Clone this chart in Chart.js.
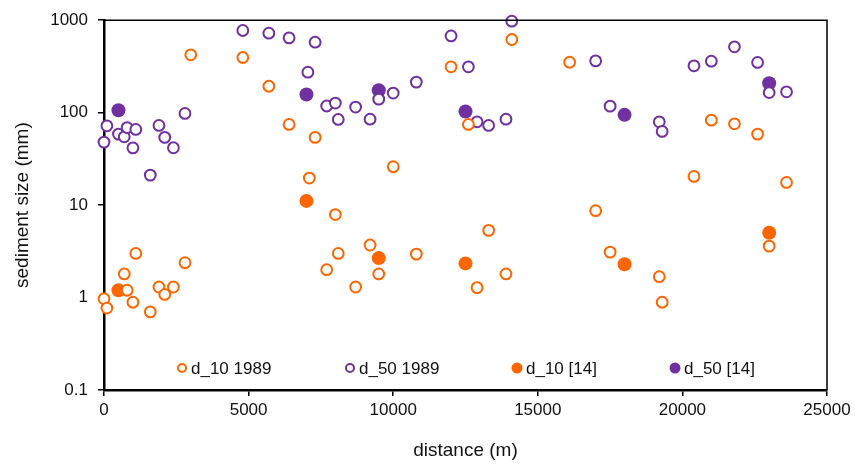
<!DOCTYPE html>
<html>
<head>
<meta charset="utf-8">
<script src="https://cdn.jsdelivr.net/npm/chart.js@4.4.0/dist/chart.umd.min.js"></script>
<style>
  html, body { margin: 0; padding: 0; background: #ffffff; }
  #wrap { width: 855px; height: 469px; position: relative; }
</style>
</head>
<body>
<div id="wrap"><canvas id="c" width="855" height="469"></canvas></div>
<script>
// ---- data ----
const d10_1989_x = [0,100,700,800,1000,1100,1600,1900,2100,2400,2800,3000,4800,5700,6400,7100,7300,7700,8000,8100,8700,9200,9500,10000,10800,12000,12600,12900,13300,13900,14100,16100,17000,17500,19200,19300,20400,21000,21800,22600,23000,23600];
const d10_1989_y = [0.97,0.77,1.8,1.2,0.89,3.0,0.70,1.3,1.08,1.3,2.38,422,395,193,74.5,19.6,54,2.0,7.9,3.0,1.3,3.7,1.8,26,2.95,313,74.5,1.28,5.33,1.8,618,351,8.7,3.1,1.68,0.89,20.4,83,75.7,58.6,3.6,17.6];

const d50_1989_x = [0,100,500,700,800,1000,1100,1600,1900,2100,2400,2800,4800,5700,6400,7050,7300,7700,8000,8100,8700,9200,9500,10000,10800,12000,12600,12900,13300,13900,14100,17000,17500,19200,19300,20400,21000,21800,22600,23000,23600];
const d50_1989_y = [48,72,58.6,54.8,69,41.6,65.8,21.1,72.7,54,41.7,98,774,723,644,274,578,118,127,84.4,115,85,140,163,214,676,313,79.6,72.7,85,975,363,117.6,79.6,62.6,321,360,515,349,165,168];

const d10_14_x = [500,7000,9500,12500,18000,23000];
const d10_14_y = [1.2,11.1,2.67,2.34,2.29,5.02];

const d50_14_x = [500,7000,9500,12500,18000,23000];
const d50_14_y = [106,157,175,103,94.7,208];

const seriesLabels = ['d_10 1989','d_50 1989','d_10 [14]','d_50 [14]'];
const yTickValues = [0.1,1,10,100,1000];
const xMin = 0, xMax = 25000, xStep = 5000;

// ---- styling ----
const ORANGE = '#FF6600';
const PURPLE = '#7030A0';
const FONT = "'Liberation Sans', Arial, sans-serif";

function pts(xs, ys) { return xs.map((x, i) => ({ x: x, y: ys[i] })); }

const datasets = [
  { label: seriesLabels[0], data: pts(d10_1989_x, d10_1989_y), backgroundColor: '#ffffff', borderColor: ORANGE, borderWidth: 2, pointRadius: 5.4, filled: false, color: ORANGE },
  { label: seriesLabels[1], data: pts(d50_1989_x, d50_1989_y), backgroundColor: '#ffffff', borderColor: PURPLE, borderWidth: 2, pointRadius: 5.4, filled: false, color: PURPLE },
  { label: seriesLabels[2], data: pts(d10_14_x, d10_14_y), backgroundColor: ORANGE, borderColor: ORANGE, borderWidth: 0, pointRadius: 7, filled: true, color: ORANGE },
  { label: seriesLabels[3], data: pts(d50_14_x, d50_14_y), backgroundColor: PURPLE, borderColor: PURPLE, borderWidth: 0, pointRadius: 7, filled: true, color: PURPLE }
].map(d => Object.assign(d, { pointHoverRadius: d.pointRadius, clip: false, showLine: false }));

// frame (top/right) + in-plot legend
const framePlugin = {
  id: 'frameLegend',
  afterDatasetsDraw(chart) {
    const ctx = chart.ctx, a = chart.chartArea;
    ctx.save();
    ctx.strokeStyle = '#000';
    ctx.lineWidth = 1.5;
    ctx.beginPath();
    ctx.moveTo(a.left, a.top);
    ctx.lineTo(a.right, a.top);
    ctx.lineTo(a.right, a.bottom);
    ctx.stroke();

    // legend inside plot area
    const legendX = [182, 350, 517, 675];
    const legendY = 368;
    ctx.font = '17px ' + FONT;
    ctx.textBaseline = 'middle';
    ctx.textAlign = 'left';
    chart.data.datasets.forEach((ds, i) => {
      const cx = legendX[i];
      ctx.beginPath();
      if (ds.filled) {
        ctx.arc(cx, legendY, 5.5, 0, Math.PI * 2);
        ctx.fillStyle = ds.color;
        ctx.fill();
      } else {
        ctx.arc(cx, legendY, 4, 0, Math.PI * 2);
        ctx.fillStyle = '#fff';
        ctx.fill();
        ctx.lineWidth = 2;
        ctx.strokeStyle = ds.color;
        ctx.stroke();
      }
      ctx.fillStyle = '#111';
      ctx.fillText(ds.label, cx + 9, legendY + 1);
    });
    ctx.restore();
  }
};

new Chart(document.getElementById('c'), {
  type: 'scatter',
  data: { datasets: datasets },
  options: {
    responsive: false,
    animation: false,
    devicePixelRatio: 1,
    layout: { padding: { left: 0, right: 28, top: 20, bottom: 0 } },
    plugins: { legend: { display: false }, tooltip: { enabled: false } },
    scales: {
      x: {
        type: 'linear',
        min: xMin, max: xMax,
        ticks: { stepSize: xStep, color: '#111', font: { family: FONT, size: 17 }, padding: 4, maxRotation: 0, callback: v => String(v) },
        grid: { display: true, drawOnChartArea: false, drawTicks: true, tickLength: 6, color: '#000', lineWidth: 1.5 },
        border: { display: true, color: '#000', width: 2.5 },
        title: { display: true, text: 'distance (m)', color: '#111', font: { family: FONT, size: 19 }, padding: { top: 0, bottom: 7 } },
        afterFit(scale) { scale.height = 79; }
      },
      y: {
        type: 'logarithmic',
        min: yTickValues[0], max: yTickValues[yTickValues.length - 1],
        afterBuildTicks(scale) { scale.ticks = yTickValues.map(v => ({ value: v, major: true })); },
        ticks: { color: '#111', font: { family: FONT, size: 17 }, padding: 10, callback: v => String(v) },
        grid: { display: true, drawOnChartArea: false, drawTicks: true, tickLength: 6, color: '#000', lineWidth: 1.5 },
        border: { display: true, color: '#000', width: 2.5 },
        title: { display: true, text: 'sediment size (mm)', color: '#111', font: { family: FONT, size: 19 }, padding: { top: 11, bottom: 0 } },
        afterFit(scale) { scale.width = 104; }
      }
    }
  },
  plugins: [framePlugin]
});
</script>
</body>
</html>
